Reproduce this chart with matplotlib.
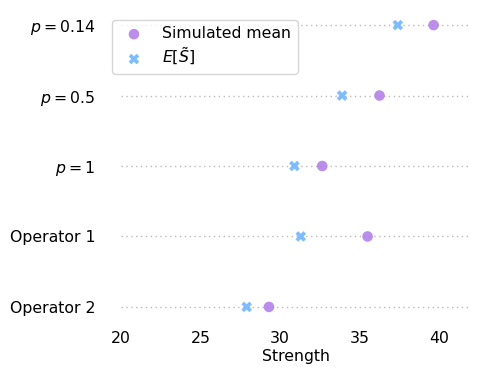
import matplotlib
matplotlib.use("Agg")
import matplotlib.pyplot as plt
import numpy as np

# Data
labels = ["$p = 0.14$", "$p = 0.5$", "$p = 1$", "Operator 1", "Operator 2"]
sim_mean = [39.65, 36.25, 32.65, 35.5, 29.3]
expected = [37.4, 33.9, 30.9, 31.3, 27.9]

fs = 11.3

fig = plt.figure(figsize=(4.98, 3.74), dpi=100)
ax = fig.add_axes([121 / 498, 1 - 321 / 374, 350 / 498, 310 / 374])

y = np.arange(len(labels))
for yi in y:
    ax.axhline(yi, color="#bbbbbb", linestyle=(0, (1, 2.5)), linewidth=1.0, zorder=0)

ax.scatter(sim_mean, y, s=58, color="#b07ae8", alpha=0.85, edgecolor="none",
           label="Simulated mean", zorder=3)
ax.scatter(expected, y, s=58, marker="X", color="#6fb5ff", alpha=0.9, edgecolor="none",
           label=r"$E[\tilde{S}]$", zorder=3)

ax.set_yticks(y)
ax.set_yticklabels(labels, fontsize=fs)
ax.set_ylim(4.2, -0.2)
ax.set_xlim(20, 42)
ax.set_xticks([20, 25, 30, 35, 40])
ax.tick_params(axis="x", labelsize=fs, length=0, pad=7)
ax.tick_params(axis="y", length=0, pad=18.5)
ax.set_xlabel("Strength", fontsize=fs, labelpad=2)
for s in ax.spines.values():
    s.set_visible(False)

fig.legend(loc="upper left", bbox_to_anchor=(112 / 498, 1 - 20 / 374),
           fontsize=fs, borderaxespad=0, frameon=True, edgecolor="#cccccc",
           labelspacing=0.3)

fig.savefig("out.png", dpi=100)
